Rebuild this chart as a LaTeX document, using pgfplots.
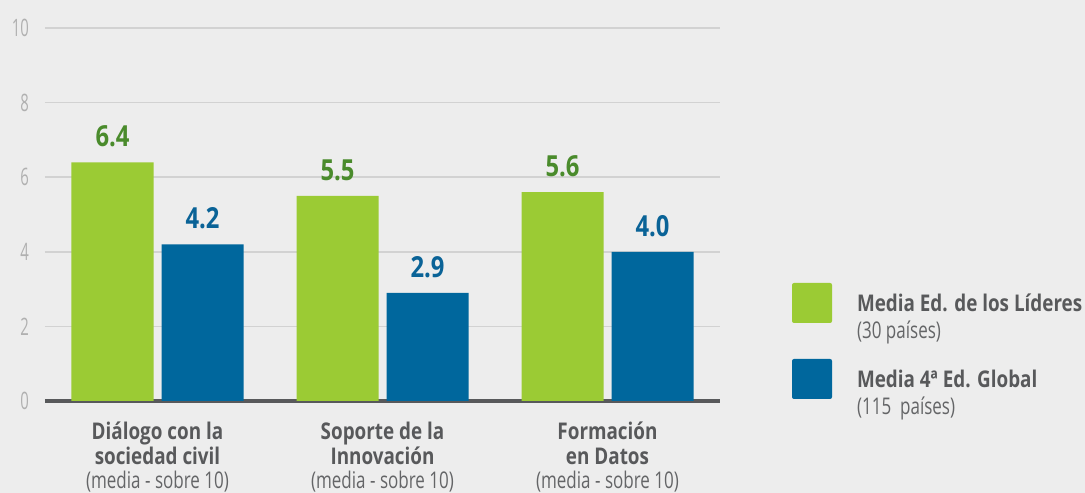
\documentclass[border=0pt]{standalone}
\usepackage{fontspec}
\setmainfont{Open Sans}[FakeStretch=0.82]
\newfontfamily\tickfont{Open Sans}[FakeStretch=0.62]
\newfontfamily\lightfont{Open Sans}[FakeStretch=0.74]
\usepackage{pgfplots}
\pgfplotsset{compat=1.18}
\definecolor{bg}{HTML}{EDEDED}
\definecolor{barg}{HTML}{9BCB34}
\definecolor{barb}{HTML}{00679D}
\definecolor{labg}{HTML}{4A8B2C}
\definecolor{labb}{HTML}{0A6397}
\definecolor{txt}{HTML}{58595B}
\definecolor{txtl}{HTML}{646567}
\definecolor{tick}{HTML}{B0B0B0}
\definecolor{gridc}{HTML}{D2D2D2}
\begin{document}
\begin{tikzpicture}
\path[use as bounding box, fill=bg] (0,0) rectangle (1085bp,493bp);
\begin{axis}[
  at={(45bp,92bp)}, anchor=south west,
  scale only axis, width=675bp, height=373bp,
  xmin=-0.5, xmax=2.5, ymin=0, ymax=10,
  ybar=8bp, bar width=82bp,
  axis x line*=bottom, axis y line*=left,
  x axis line style={-, line width=4bp, color=txt},
  y axis line style={draw=none},
  ymajorgrids, grid style={color=gridc, line width=1.5bp},
  ytick={0,2,4,6,8,10}, xtick={0,1,2},
  major tick length=0pt,
  /pgf/number format/assume math mode=true,
  yticklabel style={font=\tickfont\fontsize{24bp}{26bp}\selectfont, text=tick, inner sep=0pt, xshift=-16bp},
  xticklabels={
    {\textbf{Diálogo con la}\\\textbf{sociedad civil}\\{\lightfont\color{txtl}(media - sobre 10)}},
    {\textbf{Soporte de la}\\\textbf{Innovación}\\{\lightfont\color{txtl}(media - sobre 10)}},
    {\textbf{Formación}\\\textbf{en Datos}\\{\lightfont\color{txtl}(media - sobre 10)}}},
  xticklabel style={align=center, font=\fontsize{23bp}{24.5bp}\selectfont, text=txt, anchor=north, inner sep=0pt, yshift=-21bp},
  nodes near coords={\pgfmathprintnumber[fixed,fixed zerofill,precision=1,assume math mode=true]{\pgfplotspointmeta}},
  nodes near coords style={font=\fontsize{29bp}{30bp}\selectfont\bfseries, anchor=south, inner sep=0pt, yshift=15bp},
  legend style={at={(1.1067,0.3164)}, anchor=north west, draw=none, fill=none, inner sep=0pt, outer sep=0pt,
    column sep=25bp, row sep=36bp, nodes={inner sep=0pt, text=txt}, font=\fontsize{23bp}{27bp}\selectfont},
  legend cell align=left,
  legend image code/.code={\fill[#1, rounded corners=2bp] (0bp,-20bp) rectangle (40bp,20bp);},
]
\addplot[fill=barg, draw=none, nodes near coords style={text=labg}] coordinates {(0,6.4) (1,5.5) (2,5.6)};
\addplot[fill=barb, draw=none, nodes near coords style={text=labb}] coordinates {(0,4.2) (1,2.9) (2,4.0)};
\addlegendentry{\begin{tabular}[t]{@{}l@{}}\textbf{Media Ed. de los Líderes}\\{\lightfont\color{txtl}(30 países)}\end{tabular}}
\addlegendentry{\begin{tabular}[t]{@{}l@{}}\textbf{Media 4ª Ed. Global}\\{\lightfont\color{txtl}(115 \ países)}\end{tabular}}
\end{axis}
\end{tikzpicture}
\end{document}
